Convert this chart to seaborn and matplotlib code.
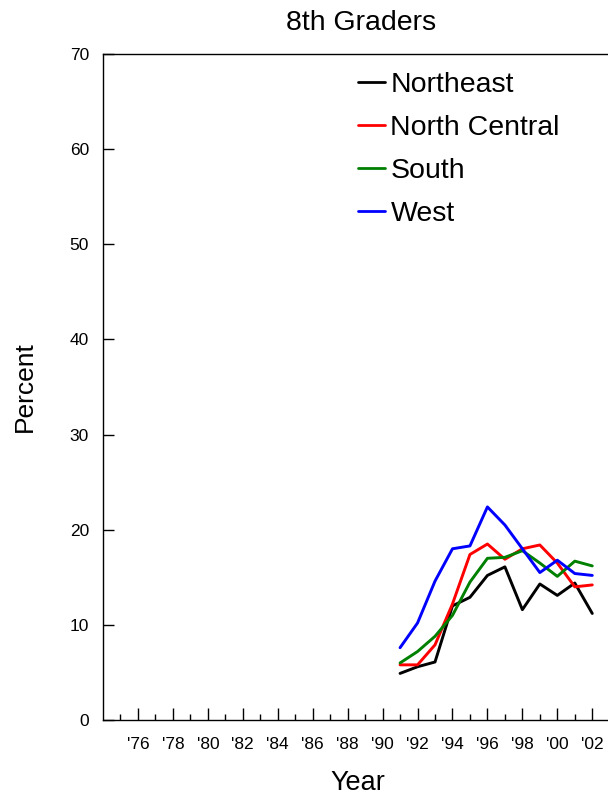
import matplotlib
matplotlib.use("Agg")
import matplotlib.pyplot as plt
import seaborn as sns
import pandas as pd
from matplotlib.ticker import FixedLocator

years = [1991, 1992, 1993, 1994, 1995, 1996, 1997, 1998, 1999, 2000, 2001, 2002]
northeast = [4.9, 5.6, 6.1, 12.0, 12.9, 15.2, 16.1, 11.6, 14.3, 13.1, 14.4, 11.2]
north_central = [5.8, 5.8, 7.9, 12.2, 17.4, 18.5, 16.9, 18.0, 18.4, 16.5, 14.0, 14.2]
south = [6.0, 7.2, 8.8, 11.0, 14.5, 17.0, 17.1, 17.8, 16.5, 15.1, 16.7, 16.2]
west = [7.6, 10.2, 14.6, 18.0, 18.3, 22.4, 20.5, 18.0, 15.5, 16.8, 15.4, 15.2]

regions = ["Northeast", "North Central", "South", "West"]
colors = ["#000000", "#ff0000", "#008000", "#0000ff"]
major_years = list(range(1976, 2003, 2))
minor_years = list(range(1975, 2002, 2))
tick_labels = ["'" + str(y)[-2:] for y in major_years]
y_ticks = [0, 10, 20, 30, 40, 50, 60, 70]

df = pd.DataFrame({
    "Year": years * 4,
    "Percent": northeast + north_central + south + west,
    "Region": sum([[r] * len(years) for r in regions], []),
})

sns.set_style("white")
plt.rcParams["font.family"] = ["Liberation Sans", "DejaVu Sans"]
plt.rcParams["text.color"] = "black"
plt.rcParams["axes.labelcolor"] = "black"
plt.rcParams["xtick.color"] = "black"
plt.rcParams["ytick.color"] = "black"

fig = plt.figure(figsize=(6.08, 7.95), dpi=100)
ax = fig.add_axes([0.1694, 0.0943, 0.8306, 0.8377])

sns.lineplot(data=df, x="Year", y="Percent", hue="Region", hue_order=regions,
             palette=colors, linewidth=2.1, ax=ax, legend=True)

ax.set_xlim(1974, 2002.9)
ax.set_ylim(0, 70)
ax.xaxis.set_major_locator(FixedLocator(major_years))
ax.xaxis.set_minor_locator(FixedLocator(minor_years))
ax.set_xticklabels(tick_labels, fontsize=12.5)
ax.set_yticks(y_ticks)
ax.set_yticklabels([str(v) for v in y_ticks], fontsize=12.5)
ax.tick_params(axis="x", which="major", direction="in", length=9, width=1,
               bottom=True, color="black", labelcolor="black", pad=12)
ax.tick_params(axis="x", which="minor", direction="in", length=4, width=1,
               bottom=True, color="black")
ax.tick_params(axis="y", which="major", direction="in", length=8, width=1,
               left=True, color="black", labelcolor="black", pad=10)

for s in ["left", "top", "bottom"]:
    ax.spines[s].set_visible(True)
    ax.spines[s].set_color("black")
    ax.spines[s].set_linewidth(1.0)
ax.spines["right"].set_visible(False)

ax.set_xlabel("Year", fontsize=19.5, labelpad=13)
ax.xaxis.set_label_coords(0.505, -0.075)
ax.set_ylabel("Percent", fontsize=19, labelpad=24)
ax.set_title("8th Graders", fontsize=20.5, pad=17, x=0.511)

leg = ax.legend(loc="upper left", bbox_to_anchor=(0.483, 0.99), frameon=False,
                fontsize=20.5, handlelength=0.95, handletextpad=0.18, labelspacing=0.6,
                borderaxespad=0)
for line in leg.get_lines():
    line.set_linewidth(2.0)
for t in leg.get_texts():
    t.set_color("black")

fig.savefig("out.png", dpi=100)
